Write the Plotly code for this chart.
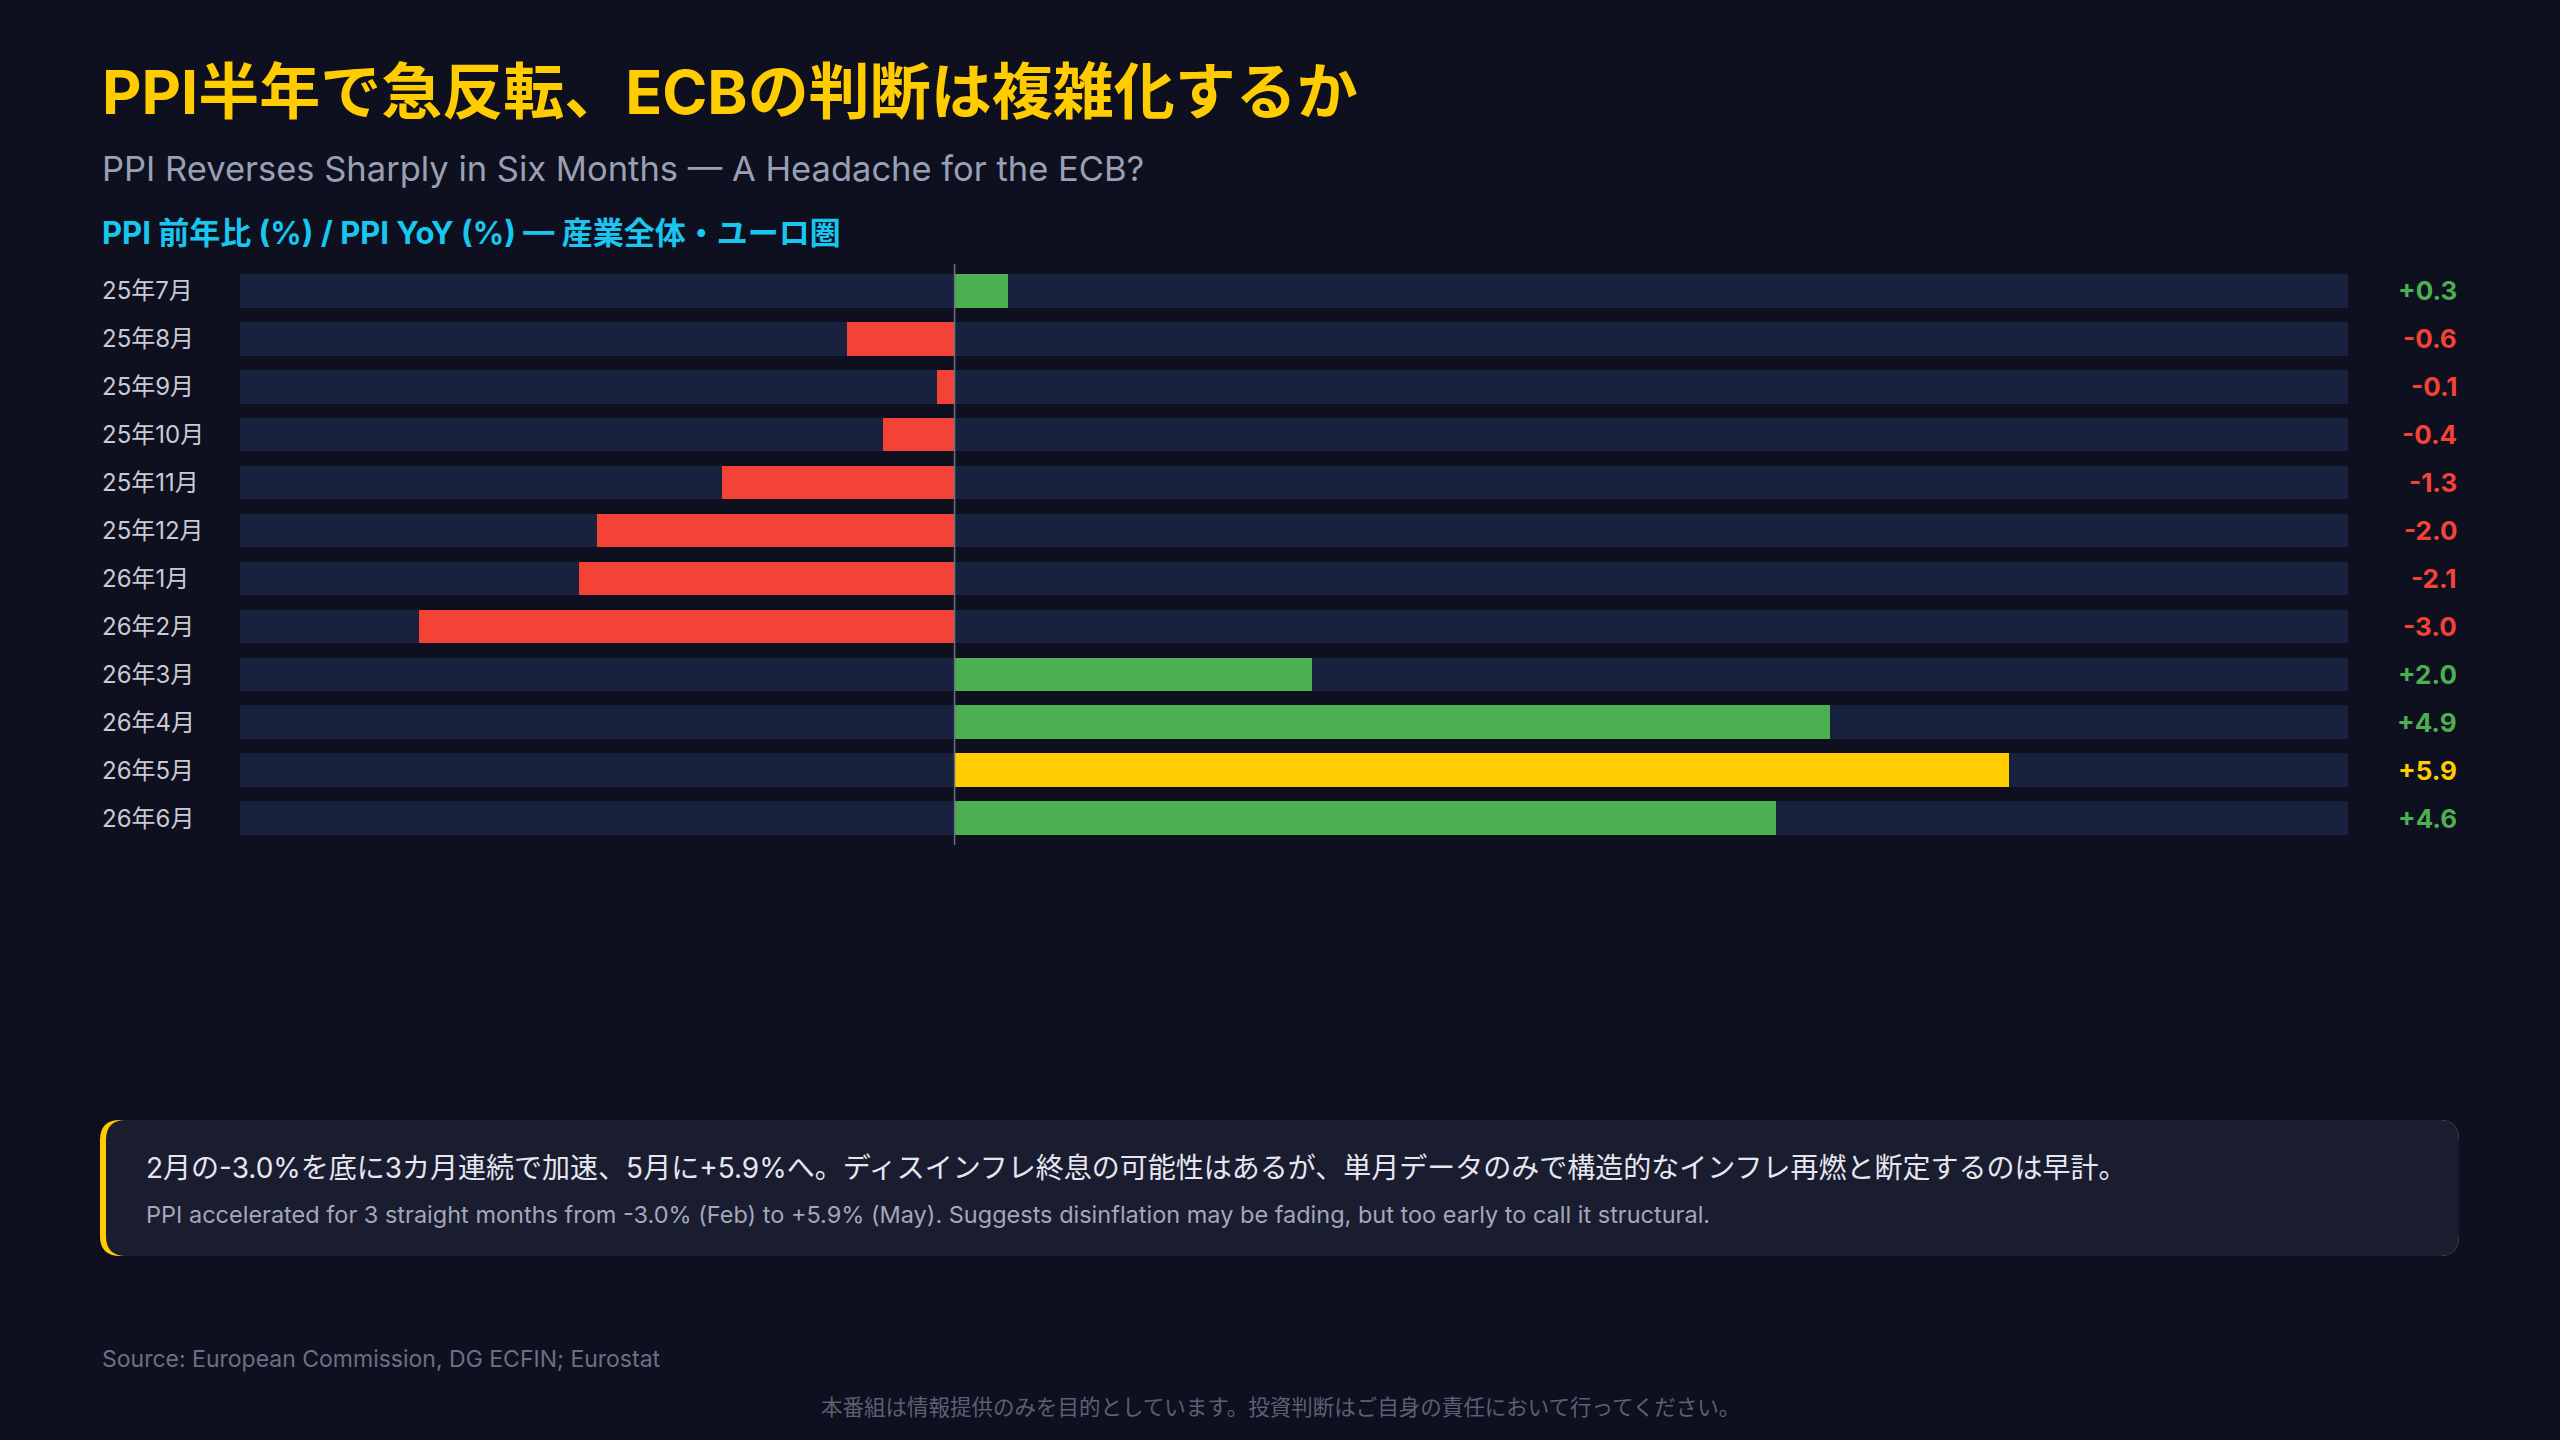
import plotly.graph_objects as go

months = ["25年7月","25年8月","25年9月","25年10月","25年11月","25年12月","26年1月","26年2月","26年3月","26年4月","26年5月","26年6月"]
ppi_yoy = [0.3,-0.6,-0.1,-0.4,-1.3,-2.0,-2.1,-3.0,2.0,4.9,5.9,4.6]
x_min, x_max = -4.0, 7.8

W, H = 2560, 1440
BG = "#0e0f1f"
GREEN, RED, YELLOW = "#4caf50", "#f44336", "#ffcc00"
peak = max(ppi_yoy)
colors = [YELLOW if v == peak else (GREEN if v >= 0 else RED) for v in ppi_yoy]

fig = go.Figure()
fig.add_trace(go.Bar(y=months, x=[x_max - x_min]*len(months), base=[x_min]*len(months),
                     orientation="h", marker=dict(color="#18213d", line=dict(width=0)),
                     width=0.7, hoverinfo="skip"))
fig.add_trace(go.Bar(y=months, x=ppi_yoy, base=0, orientation="h",
                     marker=dict(color=colors, line=dict(width=0)), width=0.7))

FONT = "Inter, Noto Sans CJK JP"
def px(x): return x / W
def py(y): return 1 - y / H

ann = []
for m, v, c in zip(months, ppi_yoy, colors):
    ann.append(dict(x=px(100), y=m, xref="paper", yref="y", text=m, showarrow=False,
                    xanchor="left", font=dict(size=24, color="#c8cad6", family=FONT)))
    ann.append(dict(x=px(2459), y=m, xref="paper", yref="y", text=f"{v:+.1f}", showarrow=False,
                    xanchor="right", font=dict(size=26, color=c, family=FONT, weight="bold")))

ann += [
    dict(x=px(100), y=py(92), text="PPI半年で急反転、ECBの判断は複雑化するか", font=dict(size=61, color=YELLOW, family=FONT, weight="bold")),
    dict(x=px(100), y=py(168), text="PPI Reverses Sharply in Six Months — A Headache for the ECB?", font=dict(size=34.5, color="#9aa0b4", family=FONT)),
    dict(x=px(100), y=py(233), text="PPI 前年比 (%) / PPI YoY (%) — 産業全体・ユーロ圏", font=dict(size=31, color="#19c6f0", family=FONT, weight="bold")),
    dict(x=px(144), y=py(1168), text="2月の-3.0%を底に3カ月連続で加速、5月に+5.9%へ。ディスインフレ終息の可能性はあるが、単月データのみで構造的なインフレ再燃と断定するのは早計。", font=dict(size=28, color="#e6e7ee", family=FONT)),
    dict(x=px(144), y=py(1214), text="PPI accelerated for 3 straight months from -3.0% (Feb) to +5.9% (May). Suggests disinflation may be fading, but too early to call it structural.", font=dict(size=23.5, color="#a3a7ba", family=FONT)),
    dict(x=px(100), y=py(1359), text="Source: European Commission, DG ECFIN; Eurostat", font=dict(size=23, color="#6b7084", family=FONT)),
]
for a in ann[len(months)*2:]:
    a.update(xref="paper", yref="paper", showarrow=False, xanchor="left", yanchor="middle")
ann.append(dict(x=0.5, y=py(1407), xref="paper", yref="paper", showarrow=False, xanchor="center", yanchor="middle",
                text="本番組は情報提供のみを目的としています。投資判断はご自身の責任において行ってください。",
                font=dict(size=21.5, color="#5c6074", family=FONT)))

def rr(x0, y0, x1, y1, r):
    X = lambda v: px(v); Y = lambda v: py(v)
    return (f"M {X(x0+r)},{Y(y0)} L {X(x1-r)},{Y(y0)} Q {X(x1)},{Y(y0)} {X(x1)},{Y(y0+r)} "
            f"L {X(x1)},{Y(y1-r)} Q {X(x1)},{Y(y1)} {X(x1-r)},{Y(y1)} L {X(x0+r)},{Y(y1)} "
            f"Q {X(x0)},{Y(y1)} {X(x0)},{Y(y1-r)} L {X(x0)},{Y(y0+r)} Q {X(x0)},{Y(y0)} {X(x0+r)},{Y(y0)} Z")

shapes = [
    dict(type="path", xref="paper", yref="paper", path=rr(100, 1120, 2459, 1256, 20), fillcolor=YELLOW, line=dict(width=0), layer="below"),
    dict(type="path", xref="paper", yref="paper", path=rr(106, 1120, 2459, 1256, 20), fillcolor="#1a1c30", line=dict(width=0), layer="below"),
    dict(type="line", xref="x", yref="paper", x0=0, x1=0, y0=py(845), y1=py(264), line=dict(color="#6a6e80", width=1.5)),
]

fig.update_layout(
    width=W, height=H, paper_bgcolor=BG, plot_bgcolor=BG, barmode="overlay", showlegend=False,
    margin=dict(l=0, r=0, t=0, b=0), annotations=ann, shapes=shapes, bargap=0,
    xaxis=dict(range=[x_min, x_max], domain=[px(240), px(2348)], visible=False, fixedrange=True),
    yaxis=dict(categoryorder="array", categoryarray=months, autorange="reversed",
               domain=[py(842), py(267)], visible=False, range=[11.5, -0.5]),
)
fig.write_html("out.html", config={"displayModeBar": False},
               post_script="document.body.style.margin='0';document.body.style.background='#0e0f1f';")
